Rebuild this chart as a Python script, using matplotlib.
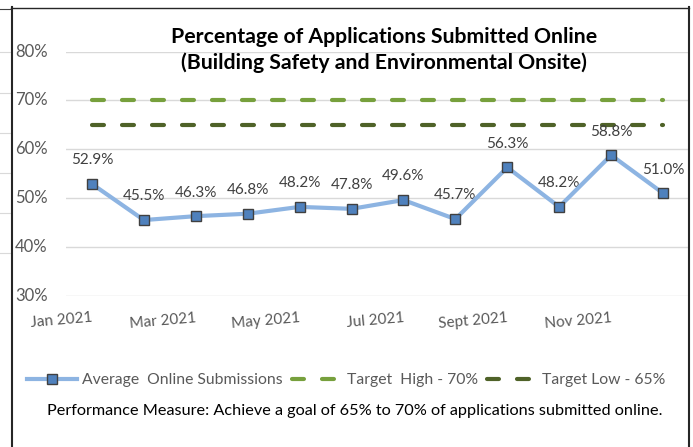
import matplotlib
matplotlib.use("Agg")
import matplotlib.pyplot as plt
from matplotlib.lines import Line2D
from matplotlib.transforms import blended_transform_factory

plt.rcParams['font.family'] = ['Lato', 'DejaVu Sans']
plt.rcParams['lines.scale_dashes'] = False

# data
months = ['Jan 2021', 'Feb 2021', 'Mar 2021', 'Apr 2021', 'May 2021', 'Jun 2021',
          'Jul 2021', 'Aug 2021', 'Sept 2021', 'Oct 2021', 'Nov 2021', 'Dec 2021']
online = [52.9, 45.5, 46.3, 46.8, 48.2, 47.8, 49.6, 45.7, 56.3, 48.2, 58.8, 51.0]
target_high = [70] * 12
target_low = [65] * 12
y_ticks = [30, 40, 50, 60, 70, 80]

W, H = 693, 447
fig = plt.figure(figsize=(W / 100, H / 100), dpi=100)

# axes box in pixels (left, top, right, bottom)
L, T, R, B = 66, 51.7, 689, 295.7
ax = fig.add_axes([L / W, 1 - B / H, (R - L) / W, (B - T) / H])

x = list(range(len(months)))
ax.plot(x, online, color='#8DB4E2', lw=3, marker='s', ms=7,
        mfc='#4F81BD', mec='#404040', mew=1, zorder=4, solid_capstyle='round')
ax.plot(x, target_high, color='#77A03D', lw=3, dashes=(8.6, 13), dash_capstyle='round', zorder=3)
ax.plot(x, target_low, color='#4F6228', lw=3, dashes=(8.6, 13), dash_capstyle='round', zorder=3)

for i, v in enumerate(online):
    ax.annotate(f'{v:.1f}%', (i, v), xytext=(0, 17), textcoords='offset points',
                ha='center', va='center', fontsize=11, color='#404040')

ax.set_xlim(-0.5, 11.5)
ax.set_ylim(30, 80)
ax.set_yticks(y_ticks)
ax.set_yticklabels([])
ax.grid(axis='y', color='#D9D9D9', lw=1)
ax.set_axisbelow(True)
for s in ax.spines.values():
    s.set_visible(False)
ax.tick_params(length=0)
ax.set_xticks([])

# y tick labels, left aligned like the original
ytrans = blended_transform_factory(fig.transFigure, ax.transData)
for t in y_ticks:
    ax.text(15 / W, t, f'{t}%', transform=ytrans,
            ha='left', va='center', fontsize=12, color='#595959')

# x labels every other month, right-anchored at the tick, slightly rotated
for i in range(0, 12, 2):
    ax.annotate(months[i], (i, 30), xytext=(0, -11), textcoords='offset points',
                ha='right', va='top', rotation=5, rotation_mode='anchor',
                fontsize=11, color='#595959')

fig.text(384 / W, 1 - 37 / H, 'Percentage of Applications Submitted Online',
         ha='center', va='center', fontsize=15.3, fontweight='bold', color='black')
fig.text(384 / W, 1 - 63 / H, '(Building Safety and Environmental Onsite)',
         ha='center', va='center', fontsize=15.3, fontweight='bold', color='black')

handles = [
    Line2D([], [], color='#8DB4E2', lw=3, marker='s', ms=7, mfc='#4F81BD', mec='#404040', mew=1),
    Line2D([], [], color='#77A03D', lw=3, dashes=(8.6, 13), dash_capstyle='round'),
    Line2D([], [], color='#4F6228', lw=3, dashes=(8.6, 13), dash_capstyle='round'),
]
labels = ['Average  Online Submissions', 'Target  High - 70%', 'Target Low - 65%']
fig.legend(handles, labels, loc='center', bbox_to_anchor=(346 / W, 1 - 380 / H), ncol=3,
           frameon=False, fontsize=11.3, labelcolor='#595959', handlelength=3.2,
           handletextpad=0.3, columnspacing=0.6)

fig.text(355 / W, 1 - 411 / H,
         'Performance Measure: Achieve a goal of 65% to 70% of applications submitted online.',
         ha='center', va='center', fontsize=11.7, color='black')

# outer frame and the edge of the neighbouring chart
def px_line(xs, ys, **kw):
    fig.add_artist(Line2D([v / W for v in xs], [1 - v / H for v in ys], **kw))

for gy in [52, 93, 133, 173, 213, 253]:
    px_line([0, 10], [gy, gy], color='#D9D9D9', lw=0.8)
px_line([0, 11], [9, 9], color='#404040', lw=0.8)
px_line([11.5, 11.5], [7, 447], color='#262626', lw=1.5)
px_line([11, 689], [7.5, 7.5], color='#262626', lw=1)
px_line([688.5, 688.5], [7, 447], color='#262626', lw=1.5)

fig.savefig('out.png', dpi=100)
